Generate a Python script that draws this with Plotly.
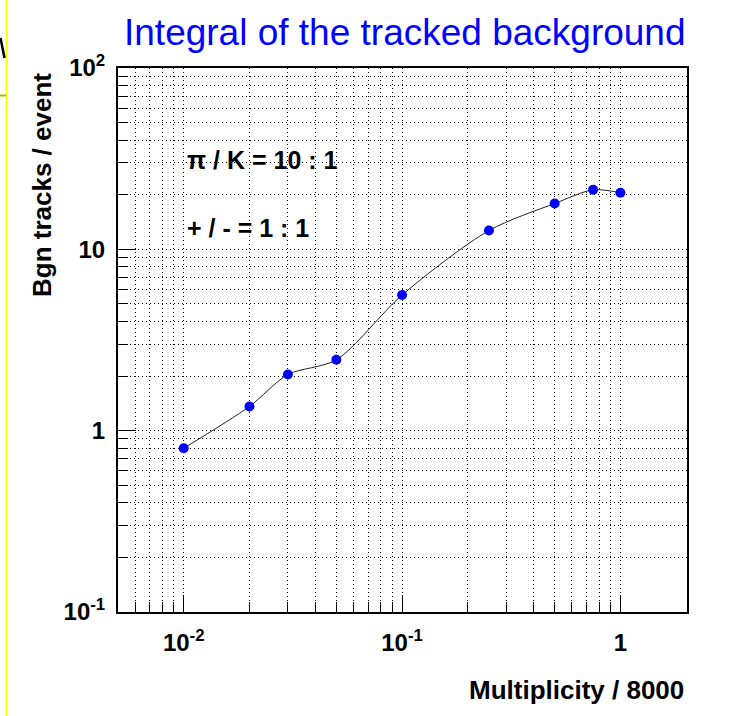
import plotly.graph_objects as go

# Background track integral vs. normalised multiplicity
multiplicity = [0.01, 0.02, 0.03, 0.05, 0.1, 0.25, 0.5, 0.75, 1.0]
bgn_tracks = [0.80, 1.36, 2.04, 2.46, 5.6, 12.7, 17.9, 21.3, 20.5]

x_major_vals = [0.01, 0.1, 1]
x_major_text = ["10<sup>-2</sup>", "10<sup>-1</sup>", "1"]
y_major_vals = [0.1, 1, 10, 100]
y_major_text = ["10<sup>-1</sup>", "1", "10", "10<sup>2</sup>"]

x_minor_vals = [m * 10.0 ** d for d in (-3, -2, -1, 0) for m in range(2, 10)]
y_minor_vals = [m * 10.0 ** d for d in (-1, 0, 1) for m in range(2, 10)]

FONT = "Liberation Sans, Arial, Helvetica, sans-serif"
GRID_DASH = "1px,3px"

fig = go.Figure()
fig.add_trace(go.Scatter(
    x=multiplicity, y=bgn_tracks,
    mode="lines+markers",
    line=dict(color="#222222", width=1, shape="spline", smoothing=0.8),
    marker=dict(color="#0000ff", size=10),
    showlegend=False,
))

axis_common = dict(
    type="log",
    showline=True, linecolor="black", linewidth=2, mirror=True,
    ticks="inside", tickcolor="black", tickwidth=1,
    showgrid=True, gridcolor="black", gridwidth=1, griddash=GRID_DASH,
    zeroline=False,
    tickfont=dict(family=FONT, size=24, color="black", weight="bold"),
)

fig.update_xaxes(
    **axis_common,
    range=[-2.301, 0.305],
    tickmode="array", tickvals=x_major_vals, ticktext=x_major_text,
    ticklen=17, ticklabelstandoff=8,
    minor=dict(tickmode="array", tickvals=x_minor_vals, ticks="inside",
               ticklen=10, tickcolor="black", showgrid=True,
               gridcolor="black", gridwidth=1, griddash=GRID_DASH),
)
fig.update_yaxes(
    **axis_common,
    range=[-1, 2],
    tickmode="array", tickvals=y_major_vals, ticktext=y_major_text,
    ticklen=18, ticklabelstandoff=6,
    minor=dict(tickmode="array", tickvals=y_minor_vals, ticks="inside",
               ticklen=10, tickcolor="black", showgrid=True,
               gridcolor="black", gridwidth=1, griddash=GRID_DASH),
)

L, R, T, B = 118, 66, 68, 104
W, H = 753, 716
PW, PH = W - L - R, H - T - B


def px_x(px):
    return (px - L) / PW


def px_y(py):
    return (H - B - py) / PH


annotations = [
    dict(text="Integral of the tracked background", x=px_x(405), y=px_y(33),
         font=dict(family=FONT, size=37, color="#0000ff")),
    dict(text="Multiplicity / 8000", x=px_x(686), y=px_y(690), xanchor="right",
         font=dict(family=FONT, size=26, color="black", weight="bold")),
    dict(text="Bgn tracks / event", x=px_x(42), y=px_y(71), yanchor="top",
         textangle=-90,
         font=dict(family=FONT, size=26, color="black", weight="bold")),
    dict(text="\u03c0 / K = 10 : 1", x=px_x(185), y=px_y(160), xanchor="left",
         font=dict(family=FONT, size=25, color="black", weight="bold")),
    dict(text="+ / - = 1 : 1", x=px_x(185), y=px_y(228), xanchor="left",
         font=dict(family=FONT, size=25, color="black", weight="bold")),
]
for a in annotations:
    a.setdefault("xanchor", "center")
    a.setdefault("yanchor", "middle")
    a.update(xref="paper", yref="paper", showarrow=False)

shapes = [
    dict(type="line", xref="paper", yref="paper",
         x0=px_x(6.5), x1=px_x(6.5), y0=px_y(0), y1=px_y(716),
         line=dict(color="#ffff00", width=2)),
    dict(type="line", xref="paper", yref="paper",
         x0=px_x(0), x1=px_x(6), y0=px_y(95.5), y1=px_y(95.5),
         line=dict(color="#b4b400", width=2)),
    dict(type="line", xref="paper", yref="paper",
         x0=px_x(0.5), x1=px_x(4.5), y0=px_y(38), y1=px_y(58),
         line=dict(color="black", width=2.5)),
]

fig.update_layout(
    width=W, height=H,
    margin=dict(l=L, r=R, t=T, b=B),
    paper_bgcolor="white", plot_bgcolor="white",
    annotations=annotations, shapes=shapes,
)

fig.write_html("out.html")
